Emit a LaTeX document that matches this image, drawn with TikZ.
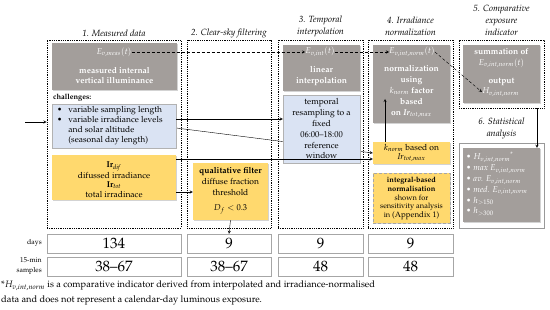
\documentclass[tikz,border=0pt]{standalone}
\usepackage[T1]{fontenc}
\usepackage{mathpazo}
\usetikzlibrary{shadows,backgrounds}

\definecolor{boxgray}{RGB}{163,158,155}
\definecolor{boxblue}{RGB}{218,227,243}
\definecolor{boxyellow}{RGB}{255,217,110}

\tikzset{
  colframe/.style={draw, densely dotted, line width=0.8pt, inner sep=0pt},
  coltitle/.style={align=center, font=\fontsize{9}{12}\selectfont\itshape, inner sep=0pt},
  shadowed/.style={drop shadow={shadow xshift=1pt, shadow yshift=-1pt, opacity=0.35}},
  graybox/.style={fill=boxgray, shadowed, inner sep=0pt},
  bluebox/.style={fill=boxblue, draw=gray!60, shadowed, inner sep=0pt},
  yellowbox/.style={fill=boxyellow, shadowed, inner sep=0pt},
  whitetext/.style={text=white, align=center, font=\fontsize{8.5}{10.8}\selectfont\bfseries, inner sep=0pt},
  boxtext/.style={align=center, font=\fontsize{8.5}{10.8}\selectfont, inner sep=0pt},
  cell/.style={draw=gray!70, fill=white, shadowed, inner sep=0pt, minimum height=19pt,
    font=\fontsize{15}{15}\selectfont},
  rowlabel/.style={anchor=east, align=right, font=\fontsize{7}{10}\selectfont, inner sep=0pt},
}

\begin{document}
\begin{tikzpicture}[x=1pt, y=-1pt, >=stealth, thin]
  \useasboundingbox (0,0) rectangle (550,310);

  % Column frames
  \node[colframe, minimum width=134pt, minimum height=188pt] (f1) at (114,134) {};
  \node[colframe, minimum width=84pt, minimum height=188pt] (f2) at (229,134) {};
  \node[colframe, minimum width=85pt, minimum height=188pt] (f3) at (320.5,134) {};
  \node[colframe, minimum width=85pt, minimum height=188pt] (f4) at (410.5,134) {};
  \node[colframe, minimum width=85pt, minimum height=68pt] (f5) at (501.5,74) {};
  \node[draw=gray!80, inner sep=0pt, minimum width=85pt, minimum height=85pt] (f6) at (501.5,185.5) {};

  % Column titles
  \node[coltitle] (t1) at (114,33) {1. Measured data};
  \node[coltitle] (t2) at (229,33) {2. Clear-sky filtering};
  \node[coltitle] (t3) at (320.5,26) {3. Temporal\\interpolation};
  \node[coltitle] (t4) at (410.5,26) {4. Irradiance\\normalization};
  \node[coltitle] (t5) at (501.5,20) {5. Comparative\\exposure\\indicator};
  \node[coltitle] (t6) at (501.5,128) {6. Statistical\\analysis};

  % 1. Measured data
  \node[graybox, minimum width=125pt, minimum height=47pt] (g1) at (114.5,66.5) {};
  \node[whitetext, font=\fontsize{8.5}{10.8}\selectfont] (emeas) at (114,52) {$E_{v,meas}(t)$};
  \node[whitetext] (g1txt) at (114.5,75.5) {measured internal\\vertical illuminance};
  \node[anchor=west, inner sep=0pt, font=\fontsize{7.5}{9}\selectfont\bfseries] (chal) at (53,98) {challenges:};
  \node[bluebox, minimum width=124pt, minimum height=44pt] (b1) at (114,126) {};
  \node[anchor=west, inner sep=0pt, font=\fontsize{8.5}{10}\selectfont] (b1txt) at (57,126)
    {\begin{tabular}{@{}l@{\hspace{6pt}}l@{}}
      \textbullet & variable sampling length\\
      \textbullet & variable irradiance levels\\
                  & and solar altitude\\
                  & (seasonal day length)
     \end{tabular}};
  \node[yellowbox, minimum width=124pt, minimum height=45pt] (y1) at (114,177.5) {};
  \node[boxtext, font=\fontsize{8.5}{9.6}\selectfont] (y1txt) at (114,179.5)
    {\textbf{Ir}$_{\mathit{dif}}$\\difussed irradiance\\\textbf{Ir}$_{\mathit{tot}}$\\total irradinace};

  % 2. Clear-sky filtering
  \node[yellowbox, minimum width=75pt, minimum height=57pt] (q) at (230.5,191.5) {};
  \node[boxtext] (qtxt) at (230.5,191)
    {\textbf{qualitative filter}\\diffuse fraction\\threshold\\[5pt]$D_f<0.3$};

  % 3. Temporal interpolation
  \node[graybox, minimum width=77pt, minimum height=46pt] (g3) at (321.5,68) {};
  \node[whitetext, font=\fontsize{8.5}{10.8}\selectfont] (eint) at (320,52) {$E_{v,int}(t)$};
  \node[whitetext] (g3txt) at (321.5,76) {linear\\interpolation};
  \node[bluebox, minimum width=77pt, minimum height=68pt] (b3) at (321.5,129) {};
  \node[boxtext] (b3txt) at (321.5,129)
    {temporal\\resampling to a\\fixed\\06:00--18:00\\reference\\window};

  % 4. Irradiance normalization
  \node[graybox, minimum width=77pt, minimum height=78pt] (g4) at (411.5,84) {};
  \node[whitetext, font=\fontsize{8.5}{10.8}\selectfont] (eintnorm) at (412,52) {$E_{v,int,norm}(t)$};
  \node[whitetext] (g4txt) at (411.5,91.5)
    {normalization\\using\\$k_{norm}$ factor\\based\\on \textit{Ir}$_{tot,max}$};
  \coordinate (knormpt) at (385,99);
  \node[yellowbox, minimum width=77pt, minimum height=22pt] (kn) at (411.5,153) {};
  \node[boxtext, font=\fontsize{8.5}{9}\selectfont] (kntxt) at (411.5,153)
    {$k_{norm}$ based on\\\textit{Ir}$_{tot,max}$};
  \node[yellowbox, draw=gray!70, densely dashed, minimum width=77pt, minimum height=50pt] (ib) at (411.5,198) {};
  \node[boxtext, font=\fontsize{7.5}{8.8}\selectfont] (ibtxt) at (411.5,198.5)
    {\textbf{integral-based}\\\textbf{normalisation}\\shown for\\sensitivity analysis\\in {\footnotesize(Appendix 1)}};

  % 5. Comparative exposure indicator
  \node[graybox, minimum width=77pt, minimum height=58pt] (g5) at (501.5,74) {};
  \node[whitetext] (g5txt) at (501.5,58) {summation of\\\mdseries$E_{v,int,norm}(t)$};
  \node[whitetext] (outtxt) at (501.5,82) {output};
  \node[whitetext, font=\fontsize{8.5}{10.8}\selectfont] (hv) at (500.5,92) {$H_{v,int,norm}$};

  % 6. Statistical analysis
  \node[graybox, minimum width=77pt, minimum height=74pt] (g6) at (501.5,185) {};
  \node[anchor=west, text=white, align=left, inner sep=0pt, font=\fontsize{8.5}{10.8}\selectfont] (g6txt) at (466,184)
    {\textbullet\ $H_{v,int,norm}$\textsuperscript{*}\\
     \textbullet\ \textit{max} $E_{v,int,norm}$\\
     \textbullet\ \textit{av.} $E_{v,int,norm}$\\
     \textbullet\ \textit{med.} $E_{v,int,norm}$\\
     \textbullet\ $h_{>150}$\\
     \textbullet\ $h_{>300}$};

  % Connectors
  \coordinate (inpt) at (25,122);
  \draw[->] (inpt) -- (inpt -| f1.west);
  \draw[->, densely dashed] (emeas) -- (eint);
  \draw[->, densely dashed] (eint) -- (eintnorm);
  \draw[->, densely dashed] (eintnorm.east) -- (hv.west);
  \draw[->] ([yshift=7pt]b1.east) -- ([yshift=7pt]b1.east -| b3.west);
  \begin{pgfonlayer}{background}
    \draw[->] ([yshift=-2pt]b1.east) -- (kn.west);
  \end{pgfonlayer}
  \draw[->] ([yshift=18.5pt]y1.east) -- ([yshift=-6pt]kn.west);
  \draw[->] ([yshift=-14.5pt]y1.east) -- ([yshift=-14.5pt]y1.east -| q.west);
  \draw[->] (kn.north -| knormpt) -- (knormpt);
  \draw[->] (f5.south -| 537,0) -- (g6.north -| 537,0);

  % Table
  \node[rowlabel] (days) at (42,243) {days};
  \node[rowlabel] (samples) at (42,266) {15-min\\samples};
  \node[cell, minimum width=134pt] (d1) at (114,243.5) {134};
  \node[cell, minimum width=84pt] (d2) at (229,243.5) {9};
  \node[cell, minimum width=85pt] (d3) at (320.5,243.5) {9};
  \node[cell, minimum width=85pt] (d4) at (410.5,243.5) {9};
  \node[cell, minimum width=134pt] (s1) at (114,266.5) {38--67};
  \node[cell, minimum width=84pt] (s2) at (229,266.5) {38--67};
  \node[cell, minimum width=85pt] (s3) at (320.5,266.5) {48};
  \node[cell, minimum width=85pt] (s4) at (410.5,266.5) {48};
  \draw[->] (q.south) -- (d2.north);

  % Footnote
  \node[anchor=north west, align=left, inner sep=0pt, font=\fontsize{9.3}{15}\selectfont] (note) at (1,281)
    {*$H_{v,int,norm}$ is a comparative indicator derived from interpolated and irradiance-normalised\\
     data and does not represent a calendar-day luminous exposure.};
\end{tikzpicture}
\end{document}
